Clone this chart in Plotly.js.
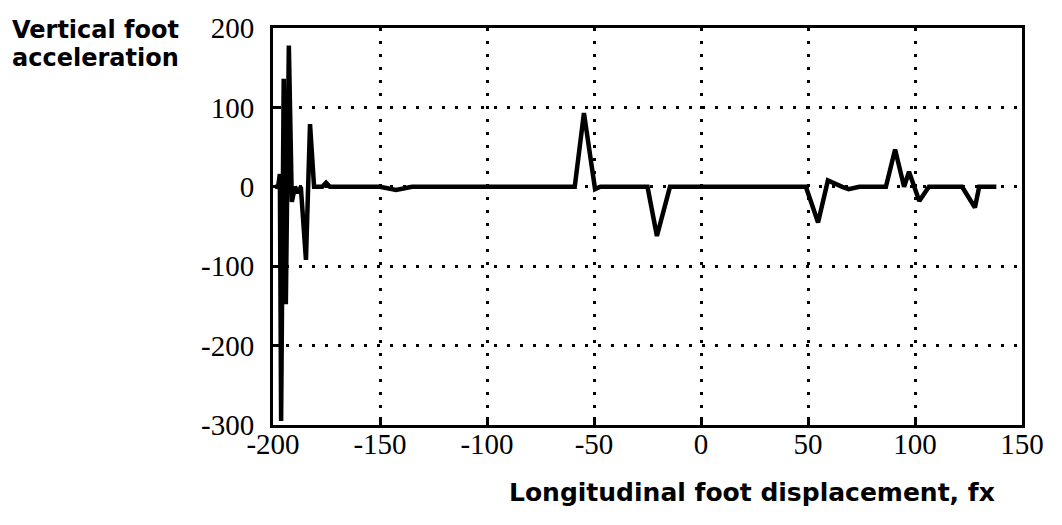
<!DOCTYPE html>
<html>
<head>
<meta charset="utf-8">
<script src="https://cdn.plot.ly/plotly-3.0.1.min.js"></script>
<style>html,body{margin:0;padding:0;background:#fff;}#chart{width:1062px;height:525px;}</style>
</head>
<body>
<div id="chart"></div>
<script>
// Longitudinal foot displacement (fx)
const displacement = [-199, -197.6, -196.8, -196.2, -195, -194, -192.6, -191.2, -189.7, -188.3, -187, -184.6, -182.7, -180.8,
  -177, -175.2, -173.4, -150, -142.5, -135, -59, -54.7, -49.5, -47, -25, -20.6, -14.5,
  49, 54.7, 59.3, 66, 69, 74, 86.4, 90.7, 94.9, 97.2, 102, 106.5, 122, 128, 130, 138];
// Vertical foot acceleration
const acceleration = [0, 0, 16, -295, 136, -148, 178, -19, 0, -8, 0, -92, 79, 0,
  0, 5, 0, 0, -4, 0, 0, 93, -3, 0, 0, -62, 0,
  0, -45, 8, 0, -3, 0, 0, 47, 0, 19, -18, 0, 0, -26, 0, 0];

const xTickVals = [-200, -150, -100, -50, 0, 50, 100, 150];
const xTickText = ["-200", "-150", "-100", "-50", "0", "50", "100", "150"];
const yTickVals = [-300, -200, -100, 0, 100, 200];
const yTickText = ["-300", "-200", "-100", "0", "100", "200"];

const yTitleLines = ["Vertical foot", "acceleration"];
const xTitle = "Longitudinal foot displacement, fx";

const tickFont = {family: "Liberation Serif, Times New Roman, serif", size: 29, color: "#000"};
const titleFont = {family: "DejaVu Sans, Arial, sans-serif", size: 24, color: "#000", weight: "bold"};

const trace = {
  x: displacement, y: acceleration, type: "scatter", mode: "lines",
  line: {color: "#000", width: 4.5}, hoverinfo: "skip"
};

const axisCommon = {
  showline: true, mirror: true, linecolor: "#000", linewidth: 3,
  showgrid: true, gridcolor: "#000", gridwidth: 3, griddash: "3px,10px",
  zeroline: false, ticks: "inside", ticklen: 8, tickwidth: 3, tickcolor: "#000",
  tickmode: "array", tickfont: tickFont, fixedrange: true
};

const layout = {
  width: 1062, height: 525,
  margin: {l: 273, r: 40, t: 28, b: 100},
  paper_bgcolor: "#fff", plot_bgcolor: "#fff",
  showlegend: false,
  xaxis: Object.assign({}, axisCommon, {range: [-200, 150], tickvals: xTickVals, ticktext: xTickText, ticklabelstandoff: -9}),
  yaxis: Object.assign({}, axisCommon, {range: [-300, 200], tickvals: yTickVals, ticktext: yTickText, ticklabelstandoff: 10}),
  annotations: [
    {text: yTitleLines[0], xref: "paper", yref: "paper", x: -0.351, y: 0.995, xanchor: "left", yanchor: "middle",
     align: "left", showarrow: false, font: titleFont},
    {text: yTitleLines[1], xref: "paper", yref: "paper", x: -0.351, y: 0.924, xanchor: "left", yanchor: "middle",
     align: "left", showarrow: false, font: titleFont},
    {text: xTitle, xref: "paper", yref: "paper", x: 0.64, y: -0.169, xanchor: "center", yanchor: "middle",
     showarrow: false, font: Object.assign({}, titleFont, {size: 25})}
  ]
};

Plotly.newPlot("chart", [trace], layout, {displayModeBar: false, staticPlot: true});
</script>
</body>
</html>
